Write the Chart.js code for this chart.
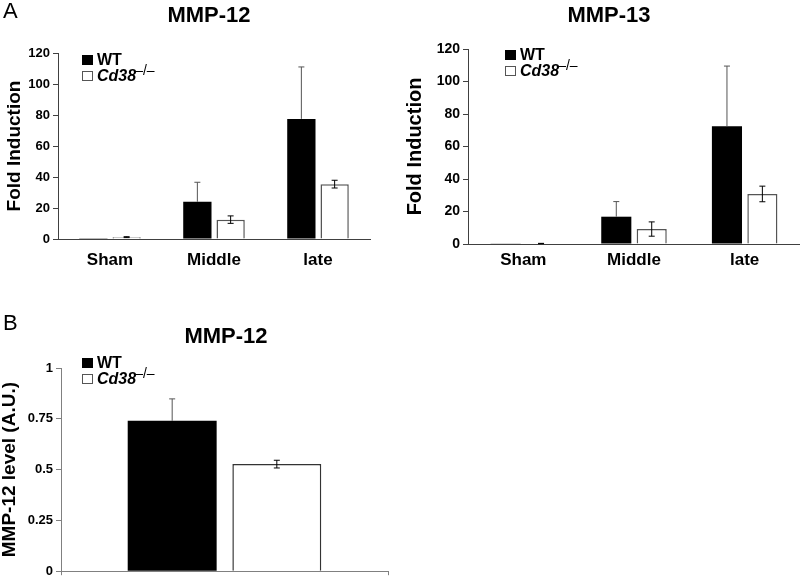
<!DOCTYPE html>
<html lang="en">

<head>
    <meta charset="UTF-8">
    <title>MMP-12 / MMP-13 Fold Induction</title>
    <script src="https://cdn.jsdelivr.net/npm/chart.js"></script>
    <style>
        body {
            margin: 0;
            padding: 0;
            background-color: #ffffff;
            font-family: Arial, 'Liberation Sans', sans-serif;
        }

        #wrap {
            position: relative;
            width: 800px;
            height: 582px;
            overflow: hidden;
        }

        canvas {
            position: absolute;
        }

        .txt {
            position: absolute;
            line-height: 1;
            white-space: nowrap;
            color: #000;
        }

        .title {
            font-size: 22px;
            font-weight: bold;
            transform: translateX(-50%);
        }

        .panel {
            font-size: 22px;
        }

        .legend {
            position: absolute;
            font-size: 16px;
            line-height: 1;
        }

        .legend .row {
            display: flex;
            align-items: center;
            height: 16px;
            white-space: nowrap;
        }

        .legend .sw {
            display: inline-block;
            width: 11px;
            height: 10px;
            margin-right: 4px;
            box-sizing: border-box;
        }

        .sw.wt {
            background: #000;
        }

        .sw.ko {
            background: #fff;
            border: 1px solid #555;
        }

        .legend b {
            font-weight: bold;
        }

        .legend .sup {
            font-size: 14px;
            font-weight: normal;
            position: relative;
            top: -6px;
            margin-left: -1px;
        }
    </style>
</head>

<body>
    <div id="wrap">
        <canvas id="chartA12" width="400" height="272" style="left:0;top:0"></canvas>
        <canvas id="chartA13" width="400" height="272" style="left:400px;top:0"></canvas>
        <canvas id="chartB12" width="400" height="302" style="left:0;top:280px"></canvas>

        <div class="txt panel" style="left:3px;top:0px">A</div>
        <div class="txt panel" style="left:3px;top:312px">B</div>

        <div class="txt title" style="left:209px;top:4px">MMP-12</div>
        <div class="txt title" style="left:609px;top:4px">MMP-13</div>
        <div class="txt title" style="left:226px;top:325px">MMP-12</div>

        <div class="legend" style="left:82px;top:52px">
            <div class="row"><span class="sw wt"></span><b>WT</b></div>
            <div class="row"><span class="sw ko"></span><b><i>Cd38</i></b><span class="sup">–/–</span></div>
        </div>
        <div class="legend" style="left:505px;top:47px">
            <div class="row"><span class="sw wt"></span><b>WT</b></div>
            <div class="row"><span class="sw ko"></span><b><i>Cd38</i></b><span class="sup">–/–</span></div>
        </div>
        <div class="legend" style="left:82px;top:355px">
            <div class="row"><span class="sw wt"></span><b>WT</b></div>
            <div class="row"><span class="sw ko"></span><b><i>Cd38</i></b><span class="sup">–/–</span></div>
        </div>
    </div>

    <script>
        // stages on the x axis (panel A)
        const stages = ['Sham', 'Middle', 'late'];

        // panel A, MMP-12 fold induction
        const mmp12Wt = [0.5, 24, 77.5];
        const mmp12WtErr = [0, 12.6, 33.5];
        const mmp12Ko = [1.2, 12.5, 35.4];
        const mmp12KoErr = [0.3, 2.4, 2.5];

        // panel A, MMP-13 fold induction
        const mmp13Wt = [0.4, 16.8, 72.5];
        const mmp13WtErr = [0, 9.3, 37];
        const mmp13Ko = [0.3, 9.2, 30.8];
        const mmp13KoErr = [0.1, 4.4, 4.8];

        // panel B, MMP-12 level
        const levelCats = [''];
        const levelWt = [0.74];
        const levelWtErr = [0.108];
        const levelKo = [0.527];
        const levelKoErr = [0.019];

        // draws error bars; WT only upward, Cd38 both ways
        const errorBars = {
            id: 'errorBars',
            afterDatasetsDraw(chart) {
                const ctx = chart.ctx;
                const y = chart.scales.y;
                chart.data.datasets.forEach((ds, i) => {
                    const meta = chart.getDatasetMeta(i);
                    meta.data.forEach((bar, j) => {
                        const v = ds.data[j];
                        const e = ds.errors[j];
                        if (!e) return;
                        const top = y.getPixelForValue(v + e);
                        const bottom = ds.twoSided ? y.getPixelForValue(v - e) : bar.y;
                        const cap = 3;
                        ctx.save();
                        ctx.strokeStyle = ds.errorColor;
                        ctx.lineWidth = 1;
                        ctx.beginPath();
                        ctx.moveTo(bar.x, top);
                        ctx.lineTo(bar.x, bottom);
                        ctx.moveTo(bar.x - cap, top);
                        ctx.lineTo(bar.x + cap, top);
                        if (ds.twoSided) {
                            ctx.moveTo(bar.x - cap, bottom);
                            ctx.lineTo(bar.x + cap, bottom);
                        }
                        ctx.stroke();
                        ctx.restore();
                    });
                });
            }
        };

        function makeChart(id, cfg) {
            const ctx = document.getElementById(id).getContext('2d');
            return new Chart(ctx, {
                type: 'bar',
                data: {
                    labels: cfg.labels,
                    datasets: [{
                        label: 'WT',
                        data: cfg.wt,
                        errors: cfg.wtErr,
                        twoSided: false,
                        errorColor: '#555555',
                        backgroundColor: '#000000',
                        borderWidth: 0,
                        categoryPercentage: 0.64,
                        barPercentage: 0.85
                    }, {
                        label: 'Cd38-/-',
                        data: cfg.ko,
                        errors: cfg.koErr,
                        twoSided: true,
                        errorColor: '#000000',
                        backgroundColor: '#ffffff',
                        borderColor: cfg.koBorder,
                        borderWidth: 1.5,
                        categoryPercentage: 0.64,
                        barPercentage: 0.85
                    }]
                },
                options: {
                    responsive: false,
                    animation: false,
                    layout: { padding: cfg.padding },
                    plugins: {
                        legend: { display: false },
                        title: { display: false },
                        tooltip: { enabled: false }
                    },
                    scales: {
                        x: {
                            grid: {
                                display: cfg.xTicks,
                                drawOnChartArea: false,
                                drawTicks: cfg.xTicks,
                                tickLength: 4,
                                color: cfg.axisColor
                            },
                            border: { display: true, color: cfg.axisColor, width: 1 },
                            ticks: {
                                display: cfg.labels[0] !== '',
                                color: '#000',
                                padding: cfg.xPad,
                                font: { family: 'Arial, "Liberation Sans"', size: 17, weight: 'bold' }
                            },
                            afterFit: (s) => { s.height = cfg.xHeight; }
                        },
                        y: {
                            min: 0,
                            max: cfg.max,
                            grid: {
                                display: true,
                                drawOnChartArea: false,
                                tickLength: 5,
                                color: cfg.axisColor
                            },
                            border: { display: true, color: cfg.axisColor, width: 1 },
                            ticks: {
                                stepSize: cfg.step,
                                color: '#000',
                                padding: 3,
                                callback: (v) => String(v),
                                font: { family: 'Arial, "Liberation Sans"', size: cfg.tickSize, weight: 'bold' }
                            },
                            title: {
                                display: true,
                                text: cfg.yTitle,
                                color: '#000',
                                padding: { top: cfg.yTitlePad, bottom: 0 },
                                font: { family: 'Arial, "Liberation Sans"', size: cfg.yTitleSize, weight: 'bold' }
                            },
                            afterFit: (s) => { s.width = cfg.yWidth; }
                        }
                    }
                },
                plugins: [errorBars]
            });
        }

        makeChart('chartA12', {
            labels: stages, wt: mmp12Wt, wtErr: mmp12WtErr, ko: mmp12Ko, koErr: mmp12KoErr,
            max: 120, step: 20, tickSize: 13, yTitle: 'Fold Induction', yTitleSize: 19, yTitlePad: 3,
            padding: { top: 53, right: 30, bottom: 0, left: 0 }, yWidth: 58, xHeight: 33, xPad: 11,
            xTicks: false, axisColor: '#404040', koBorder: '#555555'
        });

        makeChart('chartA13', {
            labels: stages, wt: mmp13Wt, wtErr: mmp13WtErr, ko: mmp13Ko, koErr: mmp13KoErr,
            max: 120, step: 20, tickSize: 14, yTitle: 'Fold Induction', yTitleSize: 20, yTitlePad: 3,
            padding: { top: 49, right: 0, bottom: 0, left: 0 }, yWidth: 68, xHeight: 28, xPad: 6,
            xTicks: false, axisColor: '#404040', koBorder: '#555555'
        });

        makeChart('chartB12', {
            labels: levelCats, wt: levelWt, wtErr: levelWtErr, ko: levelKo, koErr: levelKoErr,
            max: 1, step: 0.25, tickSize: 13, yTitle: 'MMP-12 level (A.U.)', yTitleSize: 19, yTitlePad: -2,
            padding: { top: 88, right: 12, bottom: 0, left: 0 }, yWidth: 61, xHeight: 5, xPad: 0,
            xTicks: true, axisColor: '#808080', koBorder: '#333333'
        });
    </script>
</body>

</html>
